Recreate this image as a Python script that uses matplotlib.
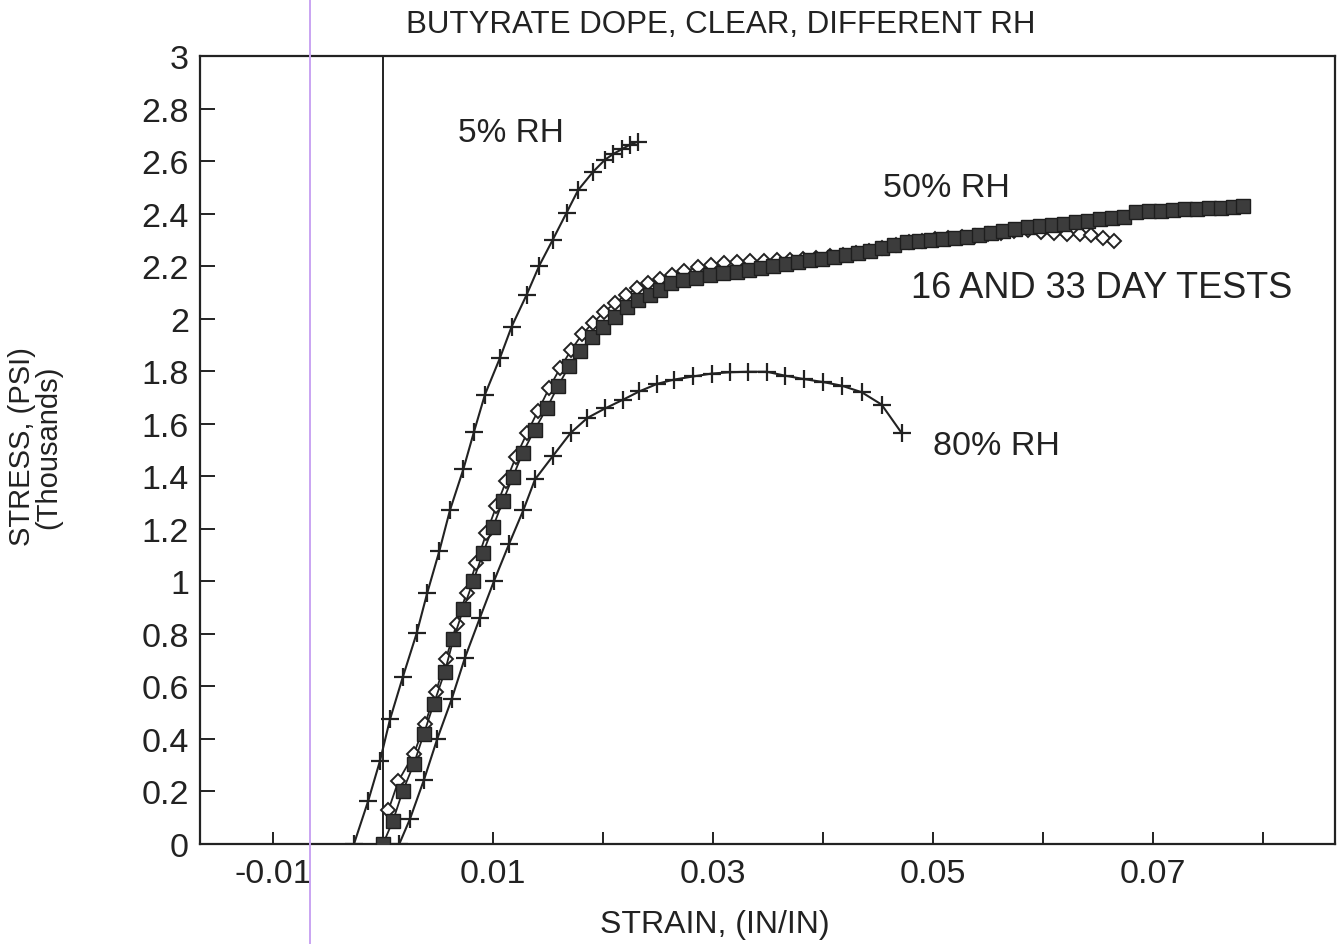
import matplotlib
matplotlib.use("Agg")
import matplotlib.pyplot as plt
from matplotlib.lines import Line2D

plt.rcParams["font.family"] = ["Liberation Sans", "DejaVu Sans"]

# 5% RH (plus markers)
rh5_strain = [-0.00264, -0.00134, -0.00027, 0.00064, 0.00179, 0.00306, 0.00403, 0.00512,
              0.00609, 0.0073, 0.00827, 0.00927, 0.01064, 0.0117, 0.01306, 0.01421,
              0.01543, 0.0167, 0.01775, 0.01912, 0.02018, 0.02094, 0.0217, 0.02245, 0.0232]
rh5_stress = [0.0, 0.165, 0.317, 0.475, 0.634, 0.802, 0.957, 1.115,
              1.271, 1.426, 1.569, 1.711, 1.851, 1.970, 2.091, 2.202,
              2.300, 2.404, 2.490, 2.560, 2.605, 2.627, 2.645, 2.662, 2.674]

# 80% RH (plus markers)
rh80_strain = [0.00148, 0.00245, 0.00373, 0.00494, 0.00624, 0.00745, 0.00882, 0.01009,
               0.01148, 0.01276, 0.01382, 0.01548, 0.01706, 0.01858, 0.02018, 0.02185,
               0.0233, 0.02494, 0.02645, 0.02821, 0.02988, 0.03155, 0.03321, 0.03488,
               0.03655, 0.03827, 0.03997, 0.0417, 0.04352, 0.04533, 0.04715]
rh80_stress = [0.0, 0.095, 0.245, 0.401, 0.551, 0.709, 0.862, 1.001,
               1.144, 1.271, 1.388, 1.479, 1.565, 1.622, 1.658, 1.692,
               1.723, 1.752, 1.768, 1.780, 1.791, 1.796, 1.798, 1.798,
               1.783, 1.770, 1.759, 1.745, 1.720, 1.673, 1.565]

# 50% RH, 33 day test (filled squares)
sq_strain = [0.0, 0.0009, 0.0018, 0.0028, 0.0037, 0.0046, 0.0056, 0.0064, 0.0073, 0.0082,
             0.0091, 0.0100, 0.0109, 0.0118, 0.0127, 0.0138, 0.0149, 0.0159, 0.0169, 0.0179,
             0.0190, 0.0200, 0.0211, 0.0222, 0.0232, 0.0243, 0.0252, 0.0262, 0.0273, 0.0285,
             0.0297, 0.0309, 0.0322, 0.0333, 0.0344, 0.0355, 0.0366, 0.0377, 0.0388, 0.0399,
             0.0410, 0.0421, 0.0432, 0.0443, 0.0454, 0.0465, 0.0476, 0.0487, 0.0498, 0.0509,
             0.0520, 0.0531, 0.0542, 0.0553, 0.0564, 0.0575, 0.0586, 0.0597, 0.0608, 0.0619,
             0.0630, 0.0641, 0.0652, 0.0663, 0.0674, 0.0685, 0.0696, 0.0707, 0.0718, 0.0729,
             0.0740, 0.0751, 0.0762, 0.0773, 0.0782]
sq_stress = [0.0, 0.088, 0.202, 0.304, 0.418, 0.532, 0.653, 0.779, 0.894, 1.001,
             1.109, 1.207, 1.305, 1.397, 1.489, 1.578, 1.660, 1.742, 1.818, 1.875,
             1.932, 1.970, 2.008, 2.046, 2.072, 2.091, 2.110, 2.135, 2.148, 2.154,
             2.167, 2.173, 2.179, 2.185, 2.192, 2.200, 2.208, 2.215, 2.222, 2.228,
             2.235, 2.242, 2.250, 2.258, 2.268, 2.280, 2.290, 2.296, 2.300, 2.304,
             2.308, 2.312, 2.318, 2.325, 2.332, 2.340, 2.348, 2.354, 2.358, 2.362,
             2.368, 2.372, 2.378, 2.384, 2.388, 2.405, 2.408, 2.410, 2.413, 2.416,
             2.418, 2.420, 2.422, 2.424, 2.427]

# 50% RH, 16 day test (open diamonds)
dm_strain = [0.0005, 0.0014, 0.0028, 0.0038, 0.0048, 0.0057, 0.0067, 0.0076, 0.0085, 0.0094,
             0.0103, 0.0112, 0.0121, 0.0131, 0.0141, 0.0151, 0.0161, 0.0171, 0.0181, 0.0191,
             0.0201, 0.0211, 0.0221, 0.0231, 0.0241, 0.0252, 0.0263, 0.0274, 0.0286, 0.0298,
             0.0310, 0.0322, 0.0334, 0.0346, 0.0358, 0.0370, 0.0382, 0.0394, 0.0406, 0.0418,
             0.0430, 0.0442, 0.0454, 0.0466, 0.0478, 0.0490, 0.0502, 0.0514, 0.0526, 0.0538,
             0.0550, 0.0562, 0.0574, 0.0586, 0.0598, 0.0610, 0.0622, 0.0634, 0.0644, 0.0655,
             0.0665]
dm_stress = [0.130, 0.240, 0.342, 0.456, 0.577, 0.703, 0.837, 0.957, 1.071, 1.183,
             1.285, 1.382, 1.475, 1.565, 1.650, 1.735, 1.812, 1.880, 1.940, 1.985,
             2.025, 2.060, 2.090, 2.115, 2.135, 2.152, 2.168, 2.182, 2.195, 2.205,
             2.210, 2.215, 2.218, 2.220, 2.222, 2.225, 2.228, 2.232, 2.237, 2.243,
             2.250, 2.258, 2.268, 2.280, 2.290, 2.296, 2.302, 2.306, 2.310, 2.316,
             2.322, 2.328, 2.334, 2.338, 2.330, 2.326, 2.324, 2.322, 2.318, 2.306,
             2.297]

x_ticks = [-0.01, 0.0, 0.01, 0.02, 0.03, 0.04, 0.05, 0.06, 0.07, 0.08]
x_tick_labels = ["-0.01", "", "0.01", "", "0.03", "", "0.05", "", "0.07", ""]
y_ticks = [0, 0.2, 0.4, 0.6, 0.8, 1, 1.2, 1.4, 1.6, 1.8, 2, 2.2, 2.4, 2.6, 2.8, 3]
y_tick_labels = ["0", "0.2", "0.4", "0.6", "0.8", "1", "1.2", "1.4", "1.6", "1.8",
                 "2", "2.2", "2.4", "2.6", "2.8", "3"]

fig = plt.figure(figsize=(13.43, 9.45), dpi=100)
ax = fig.add_axes([0.1489, 0.1058, 0.8451, 0.8339])

ink = "#222222"
ax.axvline(0, color=ink, lw=1.4, zorder=1)

ax.plot(rh5_strain, rh5_stress, color=ink, lw=1.5, marker="+", ms=13, mew=1.6, zorder=3)
ax.plot(rh80_strain, rh80_stress, color=ink, lw=1.5, marker="+", ms=13, mew=1.6, zorder=3)
ax.plot(dm_strain, dm_stress, color=ink, lw=1.3, marker="D", ms=7.5, mfc="white",
        mec=ink, mew=1.4, zorder=4)
ax.plot(sq_strain, sq_stress, color=ink, lw=1.3, marker="s", ms=10.5, mfc="#3c3c3c",
        mec="#1e1e1e", mew=1.0, zorder=5)

ax.set_xlim(-0.01664, 0.08655)
ax.set_ylim(0, 3)
ax.set_xticks(x_ticks)
ax.set_xticklabels(x_tick_labels)
ax.set_yticks(y_ticks)
ax.set_yticklabels(y_tick_labels)
ax.tick_params(axis="x", direction="in", length=9, width=1.4, labelsize=24.5, pad=10,
               colors=ink)
ax.tick_params(axis="y", direction="in", length=11, width=1.4, labelsize=24.5, pad=8,
               colors=ink)
for spine in ax.spines.values():
    spine.set_linewidth(1.6)
    spine.set_color(ink)

fig.text(715 / 1343, 1 - 925 / 945, "STRAIN, (IN/IN)", fontsize=23, color=ink,
         ha="center", va="center")
fig.text(22 / 1343, 0.527, "STRESS, (PSI)", rotation=90, fontsize=21, color=ink,
         ha="center", va="center")
fig.text(48 / 1343, 0.527, "(Thousands)", rotation=90, fontsize=21, color=ink,
         ha="center", va="center")
fig.text(721 / 1343, 1 - 25 / 945, "BUTYRATE DOPE, CLEAR, DIFFERENT RH", fontsize=22.5,
         color=ink, ha="center", va="center")

ax.text(0.0068, 2.71, "5% RH", fontsize=24, color=ink, ha="left", va="center")
ax.text(0.0455, 2.50, "50% RH", fontsize=24.5, color=ink, ha="left", va="center")
ax.text(0.0480, 2.12, "16 AND 33 DAY TESTS", fontsize=26, color=ink, ha="left", va="center")
ax.text(0.0500, 1.517, "80% RH", fontsize=24.5, color=ink, ha="left", va="center")

# faint scanner guide line running through the page
fig.add_artist(Line2D([310 / 1343, 310 / 1343], [0, 1], transform=fig.transFigure,
                      color="#c9a4f2", lw=1.4))

fig.savefig("out.png", dpi=100)
